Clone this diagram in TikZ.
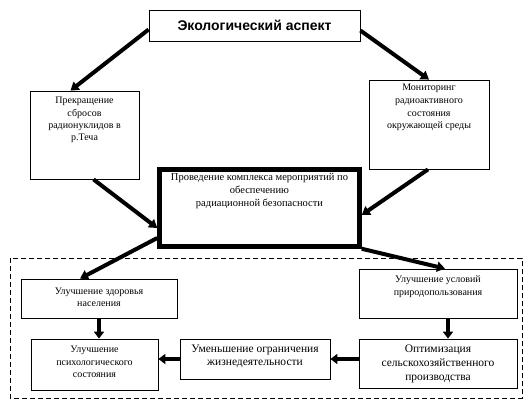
\documentclass[tikz,border=0pt]{standalone}
\usepackage{fontspec}
\setmainfont{Liberation Serif}
\newfontfamily\headfont{Liberation Sans}
\usetikzlibrary{arrows.meta,calc}
\tikzset{
  box/.style={draw, line width=0.8pt, inner sep=0pt},
  thickbox/.style={draw, line width=4.5pt, inner sep=0pt},
  txt/.style={align=center, inner sep=0pt, font=\fontsize{10}{12.4}\selectfont},
  bigtxt/.style={align=center, inner sep=0pt, font=\fontsize{11.5}{13.6}\selectfont},
  arr/.style={line width=4pt, -{Triangle[length=8pt,width=10pt]}},
  sarr/.style={line width=4.5pt, -{Triangle[length=7pt,width=10pt]}},
  frame/.style={draw, line width=0.8pt, dash pattern=on 5pt off 3pt},
}
\begin{document}
\begin{tikzpicture}[x=1pt,y=-1pt]
\useasboundingbox[fill=white] (0,0) rectangle (529,410);
% boxes
\node[box, minimum width=211pt, minimum height=31pt] (top) at (254.5,25.5) {};
\node[font=\headfont\bfseries\fontsize{14}{16}\selectfont, inner sep=0pt] (topT) at (254.5,25) {Экологический аспект};
\node[box, minimum width=109pt, minimum height=88pt] (pre) at (84.5,135) {};
\node[txt] (preT) at (84.5,120) {Прекращение\\сбросов\\радионуклидов в\\р.Теча};
\node[box, minimum width=120pt, minimum height=89pt] (mon) at (429,124.5) {};
\node[txt, font=\fontsize{10}{12.8}\selectfont] (monT) at (429,107.5) {Мониторинг\\радиоактивного\\состояния\\окружающей среды};
\node[thickbox, minimum width=200pt, minimum height=77pt] (prov) at (259.5,208) {};
\node[txt, font=\fontsize{10.5}{13}\selectfont] (provT) at (259.5,191.5) {Проведение комплекса мероприятий по\\обеспечению\\радиационной безопасности};
% lower group
\draw[frame] (10,258) rectangle (522,398);
\node[box, minimum width=156pt, minimum height=39pt] (zdor) at (99,298.5) {};
\node[txt] (zdorT) at (99,297) {Улучшение здоровья\\населения};
\node[box, minimum width=158pt, minimum height=49pt] (usl) at (438,293.5) {};
\node[txt] (uslT) at (438,286.5) {Улучшение условий\\природопользования};
\node[box, minimum width=127pt, minimum height=51pt] (psy) at (94.5,364.5) {};
\node[txt] (psyT) at (94.5,362) {Улучшение\\психологического\\состояния};
\node[box, minimum width=150pt, minimum height=40pt] (umen) at (255,359) {};
\node[bigtxt] (umenT) at (255,356.5) {Уменьшение ограничения\\жизнедеятельности};
\node[box, minimum width=158pt, minimum height=49pt] (opt) at (438,363.5) {};
\node[bigtxt] (optT) at (438,364) {Оптимизация\\сельскохозяйственного\\производства};
% connectors
\draw[arr] ([yshift=-4pt]top.west) -- ([xshift=-14pt]pre.north);
\draw[arr] ([yshift=-5pt]top.east) -- (mon.north);
\draw[arr] ([xshift=9pt]pre.south) -- ([yshift=-20pt]prov.west);
\draw[arr] ([xshift=-1pt]mon.south) -- ([yshift=-7pt]prov.east);
\draw[arr] ([yshift=-30pt]prov.west) -- ([xshift=-19pt]zdor.north);
\draw[arr] (prov.south east) -- ([xshift=7pt]usl.north);
\draw[sarr] (zdor.south) -- (zdor.south |- psy.north);
\draw[sarr] ([xshift=10pt]usl.south) -- ([xshift=10pt]usl.south |- opt.north);
\draw[sarr] (umen.east -| opt.west) -- (umen.east);
\draw[sarr] (umen.west) -- (umen.west -| psy.east);
\end{tikzpicture}
\end{document}
